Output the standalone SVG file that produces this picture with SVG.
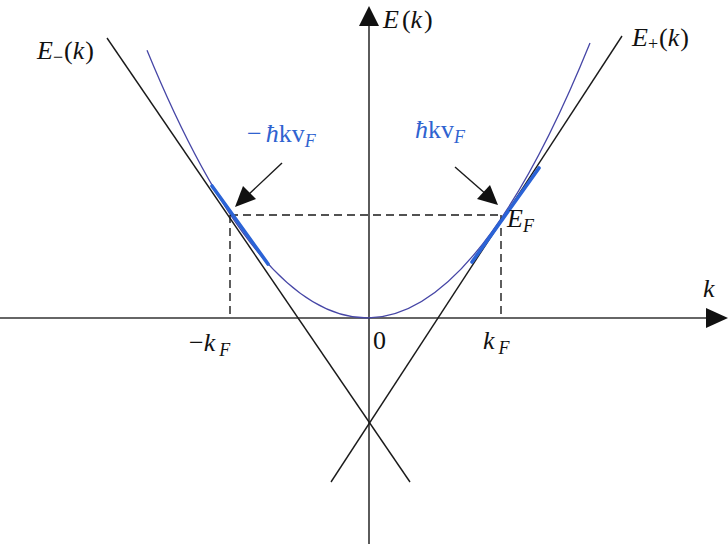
<svg xmlns="http://www.w3.org/2000/svg" width="728" height="544" viewBox="0 0 728 544">
<defs>
<style>
.t{font-family:"Liberation Serif","Times New Roman",serif;font-size:26px;fill:#111}
.i{font-style:italic}
.s{font-size:18px}
.b{fill:#2f63d0}
.ax{stroke:#333;stroke-width:1.6;fill:none}
.ln{stroke:#1a1a1a;stroke-width:1.4;fill:none}
.ds{stroke:#1a1a1a;stroke-width:1.4;stroke-dasharray:8 5;fill:none}
.bl{stroke:#2b63d6;stroke-width:3.6;fill:none;stroke-linecap:round}
.pb{stroke:#4646a6;stroke-width:1.3;fill:none}
</style>
</defs>
<rect width="728" height="544" fill="#fff"/>
<g id="connectors">
<path class="ax" d="M369,544 V22"/>
<path d="M369,6 L379,26 L359,26 z" fill="#111"/>
<path class="ax" d="M0,318 H708"/>
<path d="M728,318 L706,308 L706,328 z" fill="#111"/>
<path class="pb" d="M147,50.3 Q368.5,589.2 590,43"/>
<path class="ln" d="M107,38 L410,482"/>
<path class="ln" d="M622,36 L331,482"/>
<path class="ds" d="M230,215 H503"/>
<path class="ds" d="M230,215 V318"/>
<path class="ds" d="M501,215 V318"/>
<path class="bl" d="M212,186 L268,264"/>
<path class="bl" d="M472,262 L539,168"/>
<path class="ln" d="M282,163 L247,196"/>
<path d="M235,207 L243,186 L256,199 z" fill="#111"/>
<path class="ln" d="M455,167 L487,195"/>
<path d="M498,205 L477,199 L490,185 z" fill="#111"/>
</g>
<g id="label-Eminus"><text class="t" x="37" y="59"><tspan class="i">E</tspan><tspan class="s" dy="4">−</tspan><tspan dy="-4" dx="1">(</tspan><tspan class="i">k</tspan><tspan dx="1">)</tspan></text></g>
<g id="label-Ek"><text class="t" x="383" y="28"><tspan class="i">E</tspan><tspan dx="3">(</tspan><tspan class="i">k</tspan><tspan dx="2">)</tspan></text></g>
<g id="label-Eplus"><text class="t" x="632" y="46"><tspan class="i">E</tspan><tspan class="s" dy="4">+</tspan><tspan dy="-4" dx="1">(</tspan><tspan class="i">k</tspan><tspan dx="1">)</tspan></text></g>
<g id="label-neg-hkv"><text class="t b" x="247" y="142"><tspan>−</tspan><tspan class="i" dx="4">ħ</tspan><tspan>kv</tspan><tspan class="i s" dy="5">F</tspan></text></g>
<g id="label-hkv"><text class="t b" x="415" y="138"><tspan class="i">ħ</tspan><tspan>kv</tspan><tspan class="i s" dy="5">F</tspan></text></g>
<g id="label-EF"><text class="t" x="507" y="227"><tspan class="i">E</tspan><tspan class="i s" dy="5">F</tspan></text></g>
<g id="label-negkF"><text class="t" x="189" y="351"><tspan>−</tspan><tspan class="i">k</tspan><tspan class="i s" dx="4" dy="5">F</tspan></text></g>
<g id="label-0"><text class="t" x="373" y="349">0</text></g>
<g id="label-kF"><text class="t" x="483" y="349"><tspan class="i">k</tspan><tspan class="i s" dx="4" dy="5">F</tspan></text></g>
<g id="label-k"><text class="t i" x="703" y="297">k</text></g>
</svg>
